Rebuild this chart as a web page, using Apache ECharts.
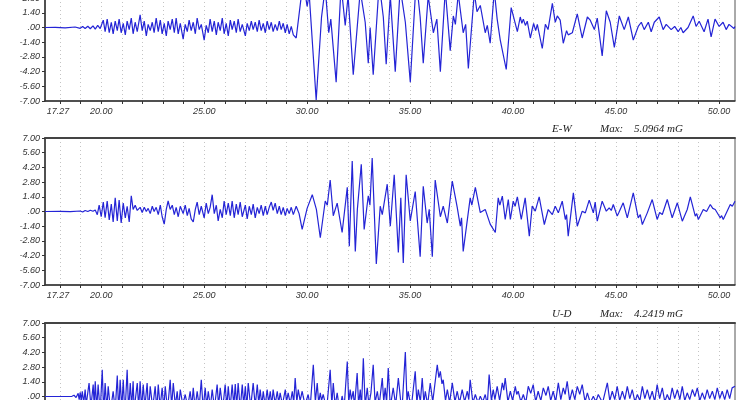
<!DOCTYPE html>
<html><head><meta charset="utf-8">
<script src="https://cdn.jsdelivr.net/npm/echarts@6/dist/echarts.min.js"></script>
<style>html,body{margin:0;padding:0;background:#fff}#c{width:740px;height:400px}</style>
</head><body><div id="c"></div><script>
// ---- axis definitions ----
const T_MIN = 17.27, T_MAX = 50.78;
const xTickValues = [18,19,20,21,22,23,24,25,26,27,28,29,30,31,32,33,34,35,36,37,38,39,40,41,42,43,44,45,46,47,48,49,50];
const xLabelValues = [17.27,20,25,30,35,40,45,50];
const yMin = -7, yMax = 7, yStep = 1.4;
const panelNames = ['N-S','E-W','U-D'];
const panelMax = ['', '5.0964 mG', '4.2419 mG'];

// ---- series values [time (s), amplitude (mG)] ----
const nsData = [[17.27,0],[17.77,0.02],[18.25,-0.03],[18.73,0.05],[18.98,-0.08],[19.1,0.1],[19.22,-0.1],[19.35,0.12],[19.47,-0.12],[19.6,0.15],[19.71,-0.15],[19.83,0.2],[19.95,-0.1],
[20.00,0.0],[20.10,0.7],[20.19,-0.4],[20.29,0.8],[20.39,-0.5],[20.49,0.5],[20.58,-0.6],[20.68,0.6],[20.78,-0.3],[20.87,0.8],[20.97,-0.5],[21.07,0.4],[21.17,-0.7],[21.26,0.6],[21.36,-0.2],[21.46,0.9],[21.55,-0.6],[21.65,0.5],[21.75,-0.4],[21.89,1.2],[21.99,-0.3],[22.09,0.6],[22.19,-0.8],[22.28,0.3],[22.38,-0.3],[22.48,0.5],[22.57,-0.5],[22.67,0.9],[22.77,-0.4],[22.87,0.7],[22.96,-0.6],[23.06,0.4],[23.16,-0.8],[23.25,0.6],[23.35,-0.2],[23.45,0.8],[23.55,-0.5],[23.64,0.9],[23.74,-0.6],[23.84,0.4],[23.98,-1.1],[24.08,0.3],[24.18,-0.4],[24.27,0.7],[24.37,-0.3],[24.47,0.5],[24.57,-0.6],[24.66,0.9],[24.76,-0.2],[24.86,0.3],[25.00,-1.2],[25.10,0.2],[25.20,-0.5],[25.29,0.8],[25.39,-0.4],[25.49,0.6],[25.59,-0.7],[25.68,0.5],[25.78,-0.3],[25.88,0.9],[25.97,-0.6],[26.07,0.4],[26.17,-0.8],[26.27,0.7],[26.36,-0.2],[26.46,0.6],[26.56,-0.5],[26.65,0.8],[26.75,-0.4],[26.85,0.3],[27.00,-0.8],[27.09,0.4],[27.19,-0.3],[27.29,0.6],[27.38,-0.2],[27.48,0.5],[27.58,-0.4],[27.67,0.7],[27.77,-0.3],[27.87,0.4],[27.97,-0.5],[28.06,0.6],[28.16,-0.2],[28.26,0.5],[28.35,-0.4],[28.45,0.3],[28.55,-0.3],[28.65,0.6],[28.74,-0.2],[28.84,0.4],[28.94,-0.5],[29.03,0.3],[29.13,-0.6],[29.23,0.1],[29.33,-0.7],[29.47,-1.0],
[29.81,4.5],[30.0,2.0],[30.1,3.2],[30.44,-6.9],[30.7,1.0],[30.88,3.8],[31.05,-0.5],[31.15,0.8],[31.41,-5.2],[31.65,4.0],[31.85,0.2],[31.99,3.0],[32.24,-4.5],[32.58,3.5],[32.82,0.5],[32.97,-3.4],[33.06,0.0],[33.21,-4.5],[33.5,4.2],[33.7,1.0],[33.84,-3.5],[34.04,3.0],[34.28,-4.2],[34.52,3.8],[34.77,0.5],[35.01,-5.2],[35.3,4.6],[35.49,1.0],[35.64,-3.4],[35.88,3.0],[36.13,-0.5],[36.3,0.8],[36.47,-4.2],[36.71,3.6],[36.95,-2.2],[37.1,1.1],[37.2,0.3],[37.34,3.2],[37.58,-0.5],[37.7,0.3],[37.83,-3.9],[38.12,3.3],[38.25,1.5],[38.41,2.1],[38.65,-0.5],[38.75,0.2],[38.89,-1.5],[39.09,3.5],[39.23,0.8],[39.38,-1.2],
[39.67,-4.0],[39.91,1.9],[40.21,-0.4],[40.35,1.0],[40.43,0.4],[40.50,0.8],[40.6,0.2],[40.69,0.6],[40.84,-1.0],[41.0,0.4],[41.1,-0.3],[41.18,0.3],[41.42,-2.0],[41.57,0.3],[41.7,-0.2],[41.91,2.3],[42.05,0.5],[42.15,1.1],[42.29,0.7],[42.44,-1.5],[42.6,-0.3],[42.68,-0.7],[42.88,-0.5],[43.12,1.3],[43.36,-1.0],[43.61,1.0],[43.75,0.7],[43.95,-0.2],[44.09,0.9],[44.33,-2.7],[44.53,1.6],[44.72,0.5],[44.92,-1.9],[45.16,1.1],[45.40,-0.2],[45.60,1.0],[45.84,-1.2],[46.08,0.1],[46.23,0.5],[46.37,-0.2],[46.57,0.5],[46.71,-0.4],[46.86,0.5],[47.10,1.0],[47.29,-0.2],[47.44,0.3],[47.68,-0.2],[47.85,0.1],[48.02,-0.4],[48.15,0.0],[48.26,-0.5],[48.50,0.0],[48.75,1.1],[48.89,0.1],[49.04,0.6],[49.28,-0.4],[49.47,0.8],[49.62,-0.9],[49.81,0.8],[50.01,0.1],[50.20,0.5],[50.35,-0.2],[50.49,0.3],[50.73,-0.1],[50.78,0.1]];

const ewData = [[17.27,0],[18.0,0.02],[18.5,-0.02],[18.98,0.05],[19.1,-0.05],[19.22,0.1],[19.35,0.0],[19.47,0.12],[19.6,0.02],[19.71,0.15],[19.81,-0.3],
[19.90,0.6],[20.00,-0.5],[20.10,0.9],[20.19,-0.6],[20.29,1.0],[20.39,-0.8],[20.49,0.7],[20.58,-1.0],[20.68,1.3],[20.78,-0.9],[20.87,1.1],[20.97,-1.1],[21.07,0.8],[21.17,-0.6],[21.26,0.5],[21.36,-1.0],[21.46,1.5],[21.55,0.2],[21.65,0.6],[21.75,0.1],[21.89,0.4],[21.99,-0.1],[22.09,0.4],[22.19,0.0],[22.28,0.3],[22.38,-0.2],[22.48,0.5],[22.57,0.0],[22.67,0.4],[22.77,-0.3],[22.87,0.6],[22.96,-0.5],[23.06,-1.2],[23.16,0.2],[23.25,1.0],[23.35,0.2],[23.45,0.6],[23.55,-0.3],[23.64,0.4],[23.74,-0.5],[23.84,0.5],[23.98,-0.2],[24.08,0.6],[24.18,-0.4],[24.27,0.3],[24.37,-0.7],[24.47,-1.0],[24.57,0.2],[24.66,0.9],[24.76,-0.3],[24.86,0.5],[25.00,-0.6],[25.10,0.8],[25.20,-0.2],[25.29,0.4],[25.39,1.6],[25.49,-0.2],[25.59,0.6],[25.68,-0.9],[25.78,0.2],[25.88,-0.6],[25.97,1.0],[26.07,-0.3],[26.17,0.8],[26.27,-0.4],[26.36,1.0],[26.46,-0.6],[26.56,0.7],[26.65,-0.3],[26.75,0.9],[26.85,-0.5],[27.00,0.6],[27.09,-0.7],[27.19,0.5],[27.29,-0.3],[27.38,0.7],[27.48,-0.6],[27.58,0.4],[27.67,-0.2],[27.77,0.6],[27.87,-0.4],[27.97,0.5],[28.06,-0.3],[28.16,0.4],[28.26,0.9],[28.35,0.1],[28.45,0.8],[28.55,-0.2],[28.65,0.5],[28.74,-0.3],[28.84,0.4],[28.94,-0.4],[29.03,0.3],[29.13,-0.2],[29.23,0.4],[29.33,-0.3],[29.47,0.5],[29.61,-0.2],[29.76,-1.7],
[30.0,0.3],[30.25,1.6],[30.45,0.2],[30.64,-2.5],[30.88,1.0],[30.98,0.6],[31.12,3.0],[31.27,-0.4],[31.46,0.8],[31.70,-2.0],[31.95,2.3],[32.05,-3.3],[32.19,4.8],[32.34,-3.8],[32.44,0.2],[32.63,4.5],[32.77,-1.7],[32.97,1.5],[33.05,0.6],[33.16,5.1],[33.36,-5.0],[33.55,0.5],[33.65,-0.3],[33.89,2.6],[34.04,-1.4],[34.23,3.5],[34.43,-3.9],[34.55,1.3],[34.67,-4.9],[34.81,3.5],[35.01,-0.9],[35.25,1.9],[35.49,-4.3],[35.64,2.4],[35.83,-1.1],[35.93,0.2],[36.08,-4.3],[36.22,3.0],[36.47,-0.5],[36.61,0.5],[36.81,-1.1],[37.05,2.9],[37.29,0.4],[37.44,-1.4],[37.5,-0.6],[37.58,-3.8],[37.92,1.3],[38.0,0.6],[38.17,2.3],[38.41,-0.1],[38.65,0.2],[38.89,-1.2],
[39.14,-2.0],[39.28,1.3],[39.36,0.6],[39.48,1.46],[39.62,-0.76],[39.77,1.14],[39.87,-0.76],[40.01,0.98],[40.1,0.5],[40.21,1.4],[40.40,-0.76],[40.59,1.3],[40.79,-2.35],[40.93,0.51],[41.08,0.03],[41.27,1.4],[41.52,-1.24],[41.71,0.19],[41.91,-0.29],[42.05,0.51],[42.20,-0.13],[42.39,0.98],[42.54,-0.76],[42.6,-0.3],[42.68,-2.35],[42.93,1.78],[43.12,-1.40],[43.36,0.03],[43.51,-0.13],[43.70,1.08],[43.90,-0.13],[43.99,0.89],[44.09,-0.92],[44.33,0.98],[44.53,0.03],[44.67,0.35],[44.77,0.1],[44.87,0.67],[45.06,-0.44],[45.14,-0.1],[45.21,-0.29],[45.35,0.83],[45.55,-0.60],[45.84,1.78],[46.08,-0.60],[46.18,-0.3],[46.28,-1.24],[46.52,-0.13],[46.6,-0.3],[46.76,1.14],[47.00,-0.76],[47.12,-0.1],[47.25,-0.29],[47.49,1.14],[47.73,-0.60],[47.98,0.83],[48.22,-0.92],[48.46,0.19],[48.53,0.0],[48.61,1.40],[48.85,-0.44],[48.92,-0.2],[49.00,-0.76],[49.24,0.19],[49.4,0.0],[49.58,0.67],[49.7,0.3],[49.82,0.19],[50.06,-0.60],[50.13,-0.4],[50.21,-0.76],[50.55,0.67],[50.65,0.5],[50.78,0.98]];

const udData = [[17.27,0],[18.0,0.0],[18.58,0.02],[18.68,0.12],[18.78,-0.1],[18.88,0.3],[18.93,-0.3],[18.98,0.4],[19.03,-0.4],[19.08,0.5],[19.15,-0.6],[19.22,0.66],[19.27,-0.8],[19.41,1.29],[19.5,-1.0],[19.61,1.13],[19.66,-0.9],[19.71,1.45],[19.78,-1.2],[19.85,1.13],[19.95,-1.5],[20.05,2.55],[20.12,-1.6],[20.19,1.29],[20.27,-1.2],[20.34,0.97],[20.45,-1.4],[20.58,0.5],[20.68,-1.3],[20.78,2.0],[20.85,-1.5],[20.92,1.6],[21.0,-1.2],[21.07,1.6],[21.15,-1.8],[21.26,2.55],[21.33,-1.4],[21.41,1.29],[21.48,-1.0],[21.55,1.45],[21.6,-1.3],[21.75,1.29],[21.82,-1.1],[21.89,1.45],[21.96,-1.2],[22.04,1.13],[22.12,-1.0],[22.23,1.29],[22.3,-1.4],[22.38,0.97],[22.5,-1.1],[22.62,0.97],[22.7,-1.3],[22.77,1.13],[22.86,-1.0],[22.96,0.82],[23.04,-1.2],[23.11,0.97],[23.22,-1.3],[23.35,1.6],[23.42,-1.0],[23.5,1.29],[23.6,-0.9],[23.69,0.5],[23.76,-1.1],[23.84,0.66],[23.96,-0.8],[24.08,0.19],[24.2,-1.0],[24.32,0.5],[24.4,-0.9],[24.47,0.82],[24.56,-1.1],[24.66,0.5],[24.76,-1.0],[24.86,1.6],[24.95,-1.2],[25.05,0.82],[25.12,-0.9],[25.2,0.5],[25.3,-1.0],[25.39,0.66],[25.5,-1.1],[25.63,1.13],[25.7,-0.9],[25.78,0.82],[25.9,-1.2],[26.02,1.13],[26.1,-1.0],[26.17,0.97],[26.26,-1.1],[26.36,1.13],[26.44,-0.9],[26.51,1.19],[26.58,-1.0],[26.65,1.29],[26.75,-1.2],[26.85,1.13],[26.92,-0.8],[27.0,0.97],[27.07,-1.1],[27.14,1.29],[27.26,-1.0],[27.38,1.29],[27.48,-0.9],[27.58,1.13],[27.65,-0.7],[27.72,0.66],[27.8,-0.8],[27.87,0.5],[27.96,-0.9],[28.06,0.66],[28.13,-0.6],[28.21,0.5],[28.28,-0.8],[28.35,0.66],[28.45,-0.7],[28.55,0.5],[28.62,-0.6],[28.69,0.35],[28.8,-0.8],[28.94,0.66],[29.0,-0.5],[29.08,0.35],[29.18,-0.7],[29.28,0.5],[29.35,-0.6],[29.42,1.76],[29.5,-0.5],[29.57,0.66],[29.66,-0.4],[29.76,0.5],[29.81,0.0],[29.9,-0.8],[30.05,0.19],[30.15,-1.0],[30.30,3.02],[30.4,-0.5],[30.49,1.29],[30.56,-0.6],[30.64,0.35],[30.7,-0.4],[30.78,0.19],[30.95,-1.2],[31.12,2.55],[31.2,-0.8],[31.27,1.29],[31.36,-0.9],[31.46,0.35],[31.58,-1.4],[31.70,0.05],[31.8,-1.0],[31.95,3.33],[32.02,-0.6],[32.09,0.66],[32.15,-0.3],[32.24,0.5],[32.3,-1.0],[32.43,2.23],[32.5,-0.8],[32.58,0.66],[32.64,-1.1],[32.73,3.65],[32.82,-0.9],[32.92,0.82],[33.0,-0.8],[33.1,0.35],[33.21,3.02],[33.3,-0.6],[33.41,0.5],[33.5,-0.8],[33.65,1.76],[33.72,-0.5],[33.79,0.82],[33.86,-0.6],[33.94,2.7],
[34.04,-1.0],[34.18,0.82],[34.3,-0.8],[34.43,1.76],[34.6,-1.5],[34.77,4.24],[34.85,-0.5],[34.91,0.5],[35.05,-1.2],[35.25,2.39],[35.33,-0.6],[35.40,0.66],[35.5,-0.5],[35.59,1.76],[35.67,-0.6],[35.74,0.5],[35.85,-0.8],[35.98,1.29],[36.1,-0.5],[36.32,3.02],[36.4,1.8],[36.47,2.39],[36.55,1.2],[36.61,1.6],[36.72,-0.4],[36.81,0.66],[36.92,-0.6],[37.05,1.29],[37.18,-0.5],[37.29,0.5],[37.4,-0.6],[37.53,0.66],[37.65,-0.5],[37.78,0.5],[37.85,-0.3],[37.92,1.6],[38.05,-0.6],[38.17,0.19],[38.3,-0.6],[38.41,0.03],[38.53,-0.5],[38.65,0.19],[38.75,-0.8],[38.84,2.08],[38.95,-0.4],[39.04,0.66],[39.12,-0.3],[39.23,0.97],[39.35,-0.4],[39.48,1.29],[39.55,0.6],[39.62,1.76],[39.75,-0.5],[39.87,0.5],[39.98,-0.4],[40.11,0.97],[40.18,0.2],[40.25,0.5],[40.38,-0.5],[40.50,0.19],[40.62,-0.6],[40.74,0.97],[40.86,0.3],[40.98,1.13],[41.1,-0.5],[41.22,0.5],[41.35,-0.4],[41.47,0.82],[41.6,0.1],[41.71,0.97],[41.83,-0.4],[41.95,0.5],[42.07,-0.5],[42.20,1.29],[42.32,-0.3],[42.44,0.82],[42.53,0.2],[42.63,1.45],[42.75,-0.4],[42.88,0.66],[43.0,-0.3],[43.12,0.97],[43.24,0.2],[43.36,1.13],[43.5,-0.5],[43.61,0.35],[43.75,-0.6],[43.90,0.03],[44.02,-0.5],[44.14,0.19],[44.35,-0.6],[44.58,1.29],[44.7,-0.4],[44.82,0.5],[44.94,-0.3],[45.06,0.97],[45.18,-0.4],[45.31,0.5],[45.43,-0.3],[45.55,0.97],[45.67,-0.2],[45.79,0.66],[45.92,-0.5],[46.04,0.19],[46.16,-0.4],[46.28,0.97],[46.4,-0.2],[46.52,0.66],[46.64,-0.3],[46.76,0.5],[46.88,-0.5],[47.00,1.13],[47.12,-0.2],[47.25,0.82],[47.37,-0.5],[47.49,0.19],[47.61,-0.4],[47.73,0.82],[47.85,-0.2],[47.98,0.66],[48.1,-0.3],[48.22,0.97],[48.34,-0.4],[48.46,0.35],[48.58,-0.3],[48.71,0.66],[48.83,0.0],[48.95,0.82],[49.07,-0.4],[49.19,0.35],[49.31,-0.3],[49.43,0.66],[49.55,-0.2],[49.68,0.5],[49.8,-0.3],[49.92,0.82],[50.04,-0.2],[50.16,0.5],[50.28,-0.3],[50.40,0.66],[50.52,-0.2],[50.64,0.82],[50.78,0.97]];

const seriesData = [nsData, ewData, udData];

// ---- layout ----
const gridTops = [-46, 138, 323];
const gridH = 147;
const labelFont = 'Liberation Sans, Arial, sans-serif';
const titleFont = 'Liberation Serif, Times New Roman, serif';

const grids = [], xAxes = [], yAxes = [], series = [], graphics = [];
gridTops.forEach((top, i) => {
  grids.push({left: 45, right: 5, top: top, height: gridH, show: true, borderColor: '#555', borderWidth: 1,
    backgroundColor: '#fff', outerBoundsMode: 'none', containLabel: false});
  xAxes.push({
    gridIndex: i, type: 'value', min: T_MIN, max: T_MAX, position: 'bottom',
    axisLine: {show: true, onZero: false, lineStyle: {color: '#333', width: 1.5}},
    axisTick: {show: true, customValues: xTickValues, length: 3, lineStyle: {color: '#333'}},
    axisLabel: {
      customValues: xLabelValues, color: '#333', fontSize: 9, fontStyle: 'italic', fontFamily: labelFont, margin: 6,
      formatter: v => Math.abs(v - T_MIN) < 1e-6 ? '{s|' + T_MIN.toFixed(2) + '}' : v.toFixed(2),
      rich: {s: {padding: [0, 0, 0, 26], fontSize: 9, fontStyle: 'italic', fontFamily: labelFont, color: '#333'}}
    },
    splitLine: {show: true, lineStyle: {color: '#c4c4c4', width: 1, type: [1, 3]}}
  });
  xAxes.push({
    gridIndex: i, type: 'value', min: T_MIN, max: T_MAX, position: 'top',
    axisLine: {show: true, onZero: false, lineStyle: {color: '#444', width: 2}},
    axisTick: {show: false}, axisLabel: {show: false}, splitLine: {show: false}
  });
  yAxes.push({
    gridIndex: i, type: 'value', min: yMin, max: yMax, interval: yStep,
    axisLine: {show: true, onZero: false, lineStyle: {color: '#333', width: 1.5}},
    axisTick: {show: true, length: 3, lineStyle: {color: '#333'}},
    axisLabel: {color: '#333', fontSize: 9, fontStyle: 'italic', fontFamily: labelFont, margin: 5,
      formatter: v => Math.abs(v) < 1e-9 ? '.00' : v.toFixed(2)},
    splitLine: {show: false}
  });
  series.push({
    type: 'line', xAxisIndex: i * 2, yAxisIndex: i, data: seriesData[i],
    showSymbol: false, symbol: 'none', lineStyle: {color: '#2424d6', width: 1.2}, animation: false
  });
  if (panelMax[i]) {
    const ts = {fontFamily: titleFont, fontStyle: 'italic', fontWeight: 'normal', fontSize: 11, fill: '#222'};
    graphics.push({type: 'text', left: 552, top: top - 14, style: Object.assign({text: panelNames[i]}, ts)});
    graphics.push({type: 'text', left: 600, top: top - 14, style: Object.assign({text: 'Max:'}, ts)});
    graphics.push({type: 'text', left: 634, top: top - 14, style: Object.assign({text: panelMax[i]}, ts)});
  }
});

const chart = echarts.init(document.getElementById('c'), null, {renderer: 'canvas'});
chart.setOption({
  animation: false, backgroundColor: '#fff',
  graphic: graphics, grid: grids, xAxis: xAxes, yAxis: yAxes, series: series
});
</script></body></html>
